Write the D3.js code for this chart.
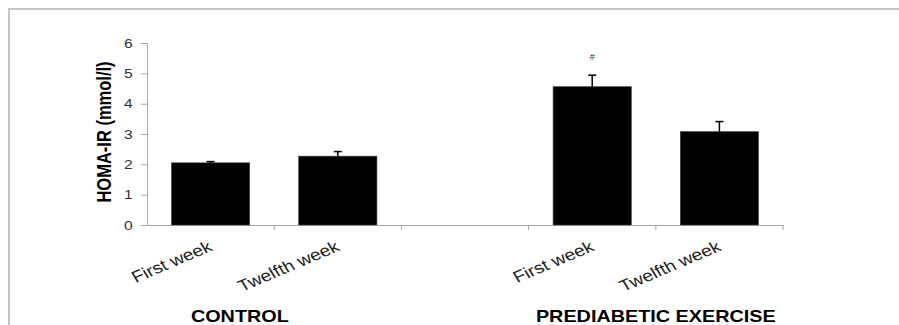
<!DOCTYPE html>
<html>
<head>
<meta charset="utf-8">
<script src="https://cdn.jsdelivr.net/npm/d3@7"></script>
<style>
  html, body { margin: 0; padding: 0; background: #fff; }
  svg { display: block; font-family: "Liberation Sans", Arial, sans-serif; }
</style>
</head>
<body>
<div id="chart"></div>
<script>
// 数据
const slots = ['c1', 'c2', 'gap', 'p1', 'p2'];
const barSlots = ['c1', 'c2', 'p1', 'p2'];
const tickLabels = ['First week', 'Twelfth week', 'First week', 'Twelfth week'];
const means = [2.05, 2.27, 4.56, 3.08];
const errors = [0.04, 0.15, 0.38, 0.33];
const marks = ['', '', '#', ''];
const groupNames = ['CONTROL', 'PREDIABETIC EXERCISE'];
const groupSlots = ['c1', 'p2'];
const groupShift = [0.73, 0];
const yTicks = [0, 1, 2, 3, 4, 5, 6];

const width = 899, height = 325;
const stretch = 1.2; // 原图横向被拉伸

let svg = d3.select('#chart').append('svg')
  .attr('width', width)
  .attr('height', height);

/*边框*/
svg.append('path')
  .attr('d', `M9,${height}V9H${width}`)
  .attr('fill', 'none')
  .attr('stroke', '#c4c4c4')
  .attr('stroke-width', 2);

let x = d3.scaleBand()
  .domain(slots)
  .range([147, 783]);

let y = d3.scaleLinear()
  .domain([0, 6])
  .range([225, 43]);

let barW = x.bandwidth() * 0.615;
let data = barSlots.map((s, i) => ({slot: s, label: tickLabels[i], mean: means[i], err: errors[i], mark: marks[i]}));

/*y轴*/
let yAxis = svg.append('g')
  .attr('transform', `translate(${x.range()[0]},0)`)
  .call(d3.axisLeft(y).tickValues(yTicks).tickSize(6).tickFormat(d3.format('d')));
yAxis.select('.domain').attr('stroke', '#a8a8a8');
yAxis.selectAll('.tick line').attr('stroke', '#a8a8a8');
yAxis.selectAll('.tick text')
  .attr('fill', '#333')
  .attr('font-size', '13px')
  .attr('x', null)
  .attr('text-anchor', 'middle')
  .attr('transform', `translate(-${13 * stretch + 3},0) scale(${stretch},1)`);

/*x轴*/
let xAxis = svg.append('g')
  .attr('transform', `translate(0,${y(0)})`)
  .call(d3.axisBottom(x).tickValues([]).tickSizeOuter(0));
xAxis.select('.domain').attr('stroke', '#a8a8a8');
let bounds = slots.map(s => x(s) + x.bandwidth());
xAxis.selectAll('.bound')
  .data(bounds)
  .enter()
  .append('line')
  .attr('class', 'bound')
  .attr('x1', d => d)
  .attr('x2', d => d)
  .attr('y1', 0)
  .attr('y2', 5)
  .attr('stroke', '#a8a8a8');

/*柱子*/
svg.selectAll('.bar')
  .data(data)
  .enter()
  .append('rect')
  .attr('class', 'bar')
  .attr('x', d => x(d.slot) + (x.bandwidth() - barW) / 2)
  .attr('y', d => y(d.mean))
  .attr('width', barW)
  .attr('height', d => y(0) - y(d.mean))
  .attr('fill', '#000')
  .attr('stroke', '#444')
  .attr('stroke-width', 0.6);

/*误差线*/
let err = svg.selectAll('.err')
  .data(data)
  .enter()
  .append('g')
  .attr('class', 'err')
  .attr('transform', d => `translate(${x(d.slot) + x.bandwidth() / 2},0)`);
err.append('line')
  .attr('y1', d => y(d.mean))
  .attr('y2', d => y(d.mean + d.err))
  .attr('stroke', '#000')
  .attr('stroke-width', 1.5);
err.append('line')
  .attr('x1', -4)
  .attr('x2', 4)
  .attr('y1', d => y(d.mean + d.err))
  .attr('y2', d => y(d.mean + d.err))
  .attr('stroke', '#000')
  .attr('stroke-width', 1.5);
err.append('text')
  .text(d => d.mark)
  .attr('y', d => y(d.mean + d.err) - 15)
  .attr('text-anchor', 'middle')
  .attr('font-size', '9px')
  .attr('fill', '#333');

/*类目标签*/
svg.selectAll('.xlabel')
  .data(data)
  .enter()
  .append('text')
  .attr('class', 'xlabel')
  .text(d => d.label)
  .attr('text-anchor', 'end')
  .attr('font-size', '16px')
  .attr('fill', '#222')
  .attr('transform', d => `translate(${x(d.slot) + x.bandwidth() / 2 + 3},250) scale(${stretch},1) rotate(-27)`);

/*分组标签*/
svg.selectAll('.group')
  .data(groupNames)
  .enter()
  .append('text')
  .attr('class', 'group')
  .text(d => d)
  .attr('text-anchor', 'middle')
  .attr('font-size', '16.5px')
  .attr('font-weight', 'bold')
  .attr('fill', '#000')
  .attr('transform', (d, i) => `translate(${x(groupSlots[i]) + groupShift[i] * x.bandwidth()},322) scale(${stretch},1)`);

/*y轴标题*/
svg.append('text')
  .text('HOMA-IR (mmol/l)')
  .attr('text-anchor', 'middle')
  .attr('font-size', '16.5px')
  .attr('font-weight', 'bold')
  .attr('fill', '#000')
  .attr('transform', `translate(111,132) scale(${stretch},1) rotate(-90)`);
</script>
</body>
</html>
